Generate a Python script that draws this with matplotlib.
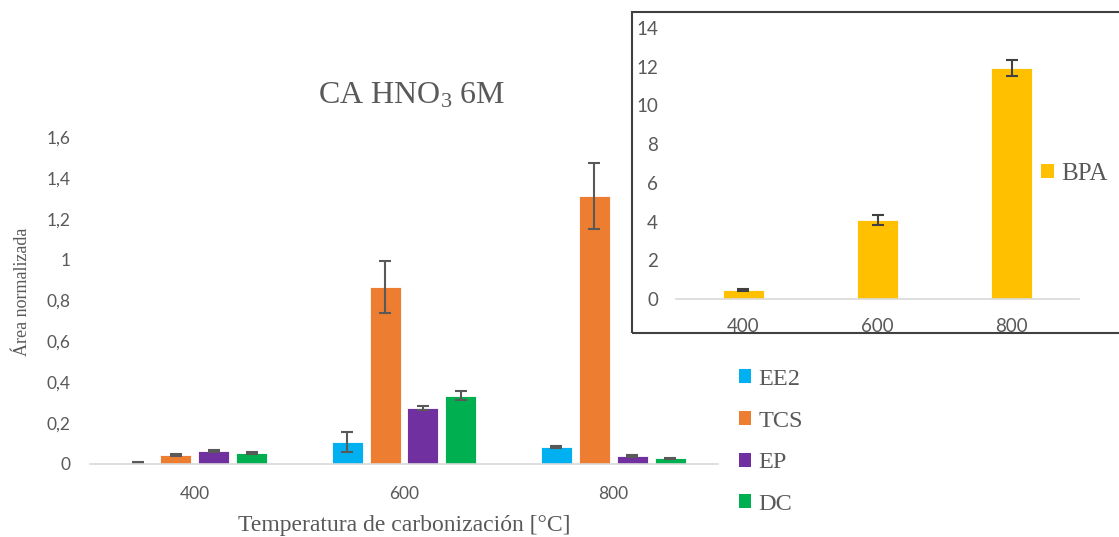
import matplotlib
matplotlib.use("Agg")
import matplotlib.pyplot as plt
from matplotlib.patches import Patch, Rectangle
import numpy as np

# data
temps = ["400", "600", "800"]
series = ["EE2", "TCS", "EP", "DC"]
colors = ["#00B0F0", "#ED7D31", "#7030A0", "#00B050"]

ee2 = [0.006, 0.108, 0.083]
tcs = [0.046, 0.868, 1.312]
ep = [0.063, 0.272, 0.038]
dc = [0.054, 0.334, 0.027]

ee2_err = [0.002, 0.051, 0.004]
tcs_err = [0.005, 0.127, 0.16]
ep_err = [0.004, 0.01, 0.004]
dc_err = [0.004, 0.022, 0.003]

bpa = [0.48, 4.08, 11.95]
bpa_err = [0.05, 0.24, 0.42]

# fonts
plt.rcParams['mathtext.fontset'] = 'custom'
plt.rcParams['mathtext.rm'] = 'Liberation Serif'
plt.rcParams['mathtext.it'] = 'Liberation Serif:italic'

W, H = 1119, 537
fig = plt.figure(figsize=(W / 100, H / 100), dpi=100)

gray = "#595959"
tick_font = "Lato"
serif = "Liberation Serif"

# main chart
ax = fig.add_axes([90 / W, (H - 464) / H, 628 / W, 327 / H])
x = np.arange(len(temps))
width = 0.148
step = 0.181
vals = [ee2, tcs, ep, dc]
errs = [ee2_err, tcs_err, ep_err, dc_err]
for i, (v, e, c) in enumerate(zip(vals, errs, colors)):
    ax.bar(x + (i - 1.5) * step, v, width, color=c, edgecolor="white", linewidth=0.6,
           yerr=e, error_kw=dict(ecolor=gray, elinewidth=1.5, capsize=4.3, capthick=1.5))

ax.set_xlim(-0.5, 2.5)
ax.set_ylim(0, 1.6)
yt = np.arange(0, 1.61, 0.2)
ax.set_yticks(yt)
ax.set_yticklabels([f"{v:g}".replace(".", ",") for v in np.round(yt, 1)],
                   fontfamily=tick_font, fontsize=12.5, color=gray)
ax.set_xticks(x)
ax.set_xticklabels(temps, fontfamily=tick_font, fontsize=12.5, color=gray)
ax.tick_params(length=0, axis="y", pad=14)
ax.tick_params(length=0, axis="x", pad=16)
for s in ["top", "right", "left"]:
    ax.spines[s].set_visible(False)
ax.spines["bottom"].set_color("#D9D9D9")
ax.spines["bottom"].set_linewidth(1.2)

fig.text(412 / W, (H - 96) / H, "CA HNO$_3$ 6M", ha="center", va="center",
         fontsize=23, color=gray, fontfamily=serif)
fig.text(23 / W, (H - 292) / H, "Área normalizada", rotation=90, ha="center", va="center",
         fontsize=13, color=gray, fontfamily=serif)
fig.text(404 / W, (H - 525) / H, "Temperatura de carbonización [°C]", ha="center", va="center",
         fontsize=17, color=gray, fontfamily=serif)

handles = [Patch(facecolor=c, edgecolor="none") for c in colors]
fig.legend(handles, series, loc="upper left", bbox_to_anchor=(739 / W, (H - 369) / H),
           frameon=False, prop=dict(family=serif, size=17.5), labelcolor=gray,
           handlelength=0.5, handleheight=0.5, handletextpad=0.3, labelspacing=0.85,
           borderpad=0, borderaxespad=0)

# inset with BPA
fig.add_artist(Rectangle((632 / W, (H - 333) / H), (1130 - 632) / W, (333 - 12) / H,
                         transform=fig.transFigure, fill=False, edgecolor="#404040", linewidth=1.5))

ax2 = fig.add_axes([676 / W, (H - 299) / H, 403 / W, 271 / H])
ax2.bar(x, bpa, 0.305, color="#FFC000", edgecolor="white", linewidth=0.6,
        yerr=bpa_err, error_kw=dict(ecolor="#404040", elinewidth=1.5, capsize=4.3, capthick=1.5))
ax2.set_xlim(-0.5, 2.5)
ax2.set_ylim(0, 14)
ax2.set_yticks(np.arange(0, 15, 2))
ax2.set_yticklabels([str(v) for v in range(0, 15, 2)], fontfamily=tick_font, fontsize=13.5, color=gray)
ax2.set_xticks(x)
ax2.set_xticklabels(temps, fontfamily=tick_font, fontsize=13.5, color=gray)
ax2.tick_params(length=0, axis="y", pad=13)
ax2.tick_params(length=0, axis="x", pad=14)
ax2.patch.set_alpha(0)
for s in ["top", "right", "left"]:
    ax2.spines[s].set_visible(False)
ax2.spines["bottom"].set_color("#D9D9D9")
ax2.spines["bottom"].set_linewidth(1.2)

fig.legend([Patch(facecolor="#FFC000", edgecolor="none")], ["BPA"], loc="center left",
           bbox_to_anchor=(1041 / W, (H - 174) / H), frameon=False,
           prop=dict(family=serif, size=18), labelcolor=gray,
           handlelength=0.5, handleheight=0.5, handletextpad=0.3,
           borderpad=0, borderaxespad=0)

fig.savefig("out.png", dpi=100)
